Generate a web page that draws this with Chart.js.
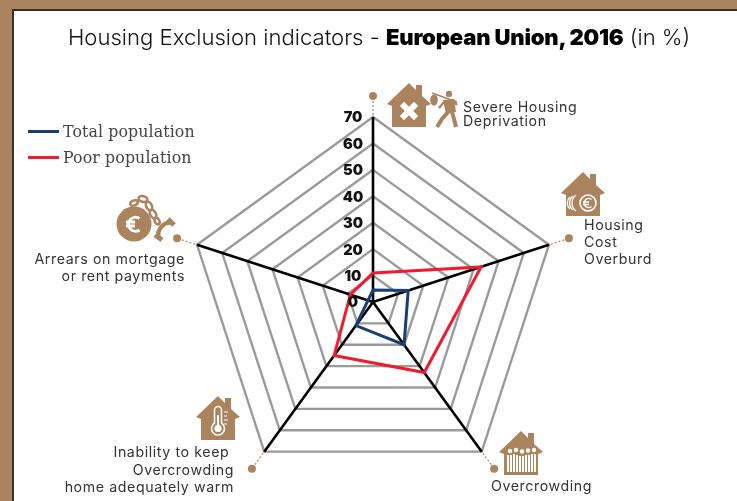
<!DOCTYPE html>
<html>
<head>
<meta charset="utf-8">
<script src="https://cdn.jsdelivr.net/npm/chart.js@4"></script>
<style>
html,body{margin:0;padding:0;width:737px;height:501px;overflow:hidden;background:#AA845F;}
#panel{position:absolute;left:12px;top:9px;width:725px;height:492px;background:#fff;border-left:2px solid #3a3228;border-top:2px solid #3a3228;box-sizing:border-box;}
canvas{position:absolute;left:0;top:0;}
svg{position:absolute;left:0;top:0;pointer-events:none;}
.t{position:absolute;white-space:pre;font-family:"Inter","Open Sans",sans-serif;color:#333;font-size:14.2px;letter-spacing:.6px;line-height:14px;}
.r{text-align:right;}
#title{left:68px;top:23px;font-size:22.1px;letter-spacing:0;line-height:28px;color:#111;font-weight:300;}
#title b{font-weight:900;color:#000;letter-spacing:-.2px;}
.lg{position:absolute;left:63px;font-family:"DejaVu Serif",serif;font-size:15.8px;line-height:18px;color:#444;white-space:pre;letter-spacing:.1px;}
.ls{position:absolute;left:28px;width:31px;height:3px;}
</style>
</head>
<body>
<div id="panel"></div>
<canvas id="c" width="737" height="501"></canvas>
<svg id="icons" width="737" height="501" viewBox="0 0 737 501">
  <defs>
    <polygon id="house" points="21,0 28,7 28,2 34,2 34,13 43,21 38,23 38,44 4,44 4,23 -1,21" fill="#AA845F"/>
  </defs>
  <!-- severe housing deprivation -->
  <g transform="translate(388,83)">
    <use href="#house"/>
    <g transform="translate(21,28) rotate(45)" fill="#fff"><rect x="-10" y="-3" width="20" height="6"/><rect x="-3" y="-10" width="6" height="20"/></g>
  </g>
  <g fill="#AA845F" stroke="#AA845F">
    <circle cx="449" cy="94" r="3.2" stroke="none"/>
    <line x1="432" y1="93" x2="457" y2="102" stroke-width="1.5"/>
    <ellipse cx="434" cy="100" rx="3.8" ry="5.5" stroke="none"/>
    <polygon points="443,100 454,99 456,112 446,114" stroke="none"/>
    <path d="M449 111 L442 119 L437 127 M452 112 L454 119 L456 127" fill="none" stroke-width="4"/>
    <path d="M444 102 L439 108 M453 100 L457 105" fill="none" stroke-width="2.4"/>
  </g>
  <!-- housing cost -->
  <g transform="translate(562,172)">
    <use href="#house"/>
    <circle cx="26" cy="31" r="8" fill="none" stroke="#fff" stroke-width="1.6"/>
    <path d="M14 23 a10 10 0 0 0 0 16 M11 24 a9 9 0 0 0 0 14 M8 25 a8 8 0 0 0 0 12" fill="none" stroke="#fff" stroke-width="1.3"/>
    <path d="M29.5 27.5 a4.5 4.5 0 1 0 0 7 M21 30 h6 M21 32.5 h6" fill="none" stroke="#fff" stroke-width="1.5"/>
  </g>
  <!-- overcrowding -->
  <g transform="translate(500,431)">
    <use href="#house"/>
    <g fill="#fff">
      <circle cx="10" cy="20" r="2.2"/><circle cx="16" cy="19" r="2.2"/><circle cx="22" cy="20.5" r="2.2"/><circle cx="28" cy="19.5" r="2.2"/><circle cx="34" cy="19" r="2.2"/>
      <rect x="7" y="24" width="2" height="17"/><rect x="10" y="24" width="2" height="17"/><rect x="13" y="23" width="2" height="18"/><rect x="16" y="24" width="2" height="17"/><rect x="19" y="25" width="2" height="16"/><rect x="22" y="25" width="2" height="16"/><rect x="25" y="24" width="2" height="17"/><rect x="28" y="24" width="2" height="17"/><rect x="31" y="23" width="2" height="18"/><rect x="34" y="23" width="2" height="18"/>
    </g>
  </g>
  <!-- thermometer -->
  <g transform="translate(197,396)">
    <use href="#house"/>
    <path d="M17.5 14 a3.5 3.5 0 0 1 7 0 V27 a6.5 6.5 0 1 1 -7 0 Z" fill="none" stroke="#fff" stroke-width="1.5"/>
    <circle cx="21" cy="32.5" r="3.6" fill="#fff"/>
    <rect x="20" y="19" width="2" height="12" fill="#fff"/>
    <path d="M27 16 h4 M27 20 h3 M27 24 h4 M27 28 h3" stroke="#fff" stroke-width="1"/>
  </g>
  <!-- arrears -->
  <g>
    <circle cx="134" cy="224" r="17.5" fill="#AA845F"/>
    <path d="M139.5 218.5 a7 7 0 1 0 0 11.5 M126 222 h9 M126 226 h9" fill="none" stroke="#fff" stroke-width="2.8"/>
    <g fill="none" stroke="#AA845F" stroke-width="2.6">
      <ellipse cx="134" cy="203" rx="4" ry="2.5" transform="rotate(-20 134 203)"/>
      <ellipse cx="143" cy="199" rx="4.5" ry="2.8" transform="rotate(15 143 199)"/>
      <ellipse cx="149" cy="206" rx="4.5" ry="2.8" transform="rotate(65 149 206)"/>
      <ellipse cx="153" cy="214" rx="4.5" ry="2.8" transform="rotate(60 153 214)"/>
      <ellipse cx="157" cy="221" rx="3.5" ry="2.2" transform="rotate(60 157 221)"/>
    </g>
    <path d="M172 223 C164 221 156 230 159 238" fill="none" stroke="#AA845F" stroke-width="4.2"/>
    <path d="M168 219 l6 6 M155 235 l7 5" stroke="#AA845F" stroke-width="5" fill="none"/>
  </g>
</svg>
<div id="title" class="t">Housing Exclusion indicators - <b>European Union, 2016</b> (in %)</div>
<div class="ls" id="ls0" style="top:130px"></div><div class="lg" id="lg0" style="top:123px"></div>
<div class="ls" id="ls1" style="top:156px"></div><div class="lg" id="lg1" style="top:149px"></div>
<div class="t" style="left:463px;top:100px">Severe Housing
Deprivation</div>
<div class="t" style="left:584px;top:216px;line-height:17px">Housing
Cost
Overburd</div>
<div class="t" style="left:491px;top:479px">Overcrowding</div>
<div class="t r" style="right:503px;top:443px;line-height:17.5px">Inability to keep 
Overcrowding
home adequately warm</div>
<div class="t r" style="right:552px;top:250px;line-height:17px">Arrears on mortgage
or rent payments</div>
<script>
const categories = ["Severe Housing Deprivation", "Housing Cost Overburden", "Overcrowding", "Inability to keep home adequately warm", "Arrears on mortgage or rent payments"];
const seriesNames = ["Total population", "Poor population"];
const totalValues = [4.5, 14, 20, 11, 2];
const poorValues = [11, 43, 33, 25, 9];
const seriesColors = ["#1B3F73", "#EE1C2E"];
const tickValues = [0, 10, 20, 30, 40, 50, 60, 70];
const accent = "#AA845F";

seriesNames.forEach((n, i) => {
  document.getElementById("lg" + i).textContent = n;
  document.getElementById("ls" + i).style.background = seriesColors[i];
});

const overlay = {
  id: "overlay",
  afterDraw(chart) {
    const s = chart.scales.r, ctx = chart.ctx;
    ctx.save();
    // dashed leaders and dots
    categories.forEach((_, i) => {
      const a = s.getPointPosition(i, s.drawingArea + 2);
      const b = s.getPointPosition(i, s.drawingArea + 21);
      ctx.strokeStyle = accent; ctx.lineWidth = 1.2; ctx.setLineDash([2, 2]);
      ctx.beginPath(); ctx.moveTo(a.x, a.y); ctx.lineTo(b.x, b.y); ctx.stroke();
      ctx.setLineDash([]);
      ctx.fillStyle = accent;
      ctx.beginPath(); ctx.arc(b.x, b.y, 4, 0, Math.PI * 2); ctx.fill();
    });
    // tick labels, set to the left of the vertical axis
    ctx.fillStyle = "#111";
    ctx.font = '900 14.5px "Inter","Open Sans",sans-serif';
    ctx.textAlign = "center"; ctx.textBaseline = "middle";
    s.ticks.forEach(t => {
      ctx.fillText(String(t.value), s.xCenter - 20, s.yCenter - s.getDistanceFromCenterForValue(t.value) + 1);
    });
    ctx.restore();
  }
};

new Chart(document.getElementById("c"), {
  type: "radar",
  data: {
    labels: categories,
    datasets: [
      { label: seriesNames[1], data: poorValues, borderColor: seriesColors[1], borderWidth: 3, fill: false, pointRadius: 0, tension: 0 },
      { label: seriesNames[0], data: totalValues, borderColor: seriesColors[0], borderWidth: 3, fill: false, pointRadius: 0, tension: 0 }
    ]
  },
  options: {
    responsive: false,
    animation: false,
    layout: { padding: { left: 188, right: 179, top: 117, bottom: 14 } },
    plugins: { legend: { display: false }, title: { display: false }, tooltip: { enabled: false } },
    scales: {
      r: {
        min: 0, max: 70,
        afterBuildTicks(scale) { scale.ticks = tickValues.map(v => ({ value: v })); },
        ticks: { display: false, stepSize: 10 },
        pointLabels: { display: false },
        grid: { color: "#9a9a9a", lineWidth: 2.4, circular: false },
        angleLines: { display: true, color: "#000", lineWidth: 2.6 }
      }
    }
  },
  plugins: [overlay]
});
</script>
</body>
</html>
